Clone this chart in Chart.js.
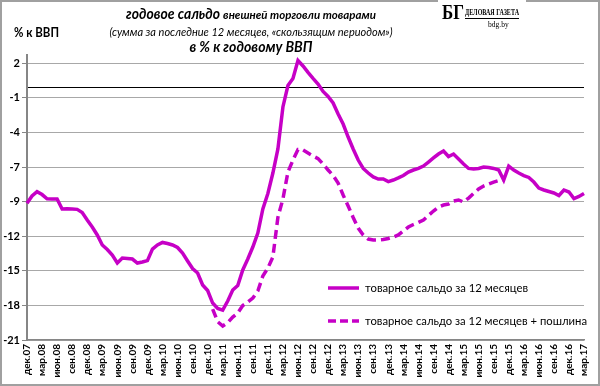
<!DOCTYPE html>
<html>
<head>
<meta charset="utf-8">
<script src="https://cdn.jsdelivr.net/npm/chart.js@4/dist/chart.umd.min.js"></script>
<style>
  body { margin: 0; background: #fff; }
  #wrap { width: 600px; height: 386px; }
</style>
</head>
<body>
<div id="wrap"><canvas id="saldoChart" width="600" height="386"></canvas></div>
<script>
// monthly points, дек.07 .. мар.17
const categories = [
    'дек.07',
    'янв.08','фев.08','мар.08','апр.08','май.08','июн.08','июл.08','авг.08','сен.08','окт.08','ноя.08','дек.08',
    'янв.09','фев.09','мар.09','апр.09','май.09','июн.09','июл.09','авг.09','сен.09','окт.09','ноя.09','дек.09',
    'янв.10','фев.10','мар.10','апр.10','май.10','июн.10','июл.10','авг.10','сен.10','окт.10','ноя.10','дек.10',
    'янв.11','фев.11','мар.11','апр.11','май.11','июн.11','июл.11','авг.11','сен.11','окт.11','ноя.11','дек.11',
    'янв.12','фев.12','мар.12','апр.12','май.12','июн.12','июл.12','авг.12','сен.12','окт.12','ноя.12','дек.12',
    'янв.13','фев.13','мар.13','апр.13','май.13','июн.13','июл.13','авг.13','сен.13','окт.13','ноя.13','дек.13',
    'янв.14','фев.14','мар.14','апр.14','май.14','июн.14','июл.14','авг.14','сен.14','окт.14','ноя.14','дек.14',
    'янв.15','фев.15','мар.15','апр.15','май.15','июн.15','июл.15','авг.15','сен.15','окт.15','ноя.15','дек.15',
    'янв.16','фев.16','мар.16','апр.16','май.16','июн.16','июл.16','авг.16','сен.16','окт.16','ноя.16','дек.16',
    'янв.17','фев.17','мар.17'
];

// товарное сальдо за 12 месяцев, % к ВВП
const tradeBalance = [
    -9.64, -9.03, -8.67, -8.91, -9.26, -9.28, -9.28, -10.11, -10.09, -10.11,
    -10.14, -10.40, -11.03, -11.61, -12.27, -13.10, -13.48, -13.94, -14.60, -14.19,
    -14.23, -14.27, -14.60, -14.52, -14.40, -13.44, -13.10, -12.89, -12.98, -13.10,
    -13.31, -13.77, -14.43, -15.06, -15.43, -16.43, -16.89, -17.93, -18.37, -18.51,
    -17.76, -16.85, -16.47, -15.18, -14.27, -13.27, -12.11, -10.11, -8.82, -7.12,
    -5.12, -1.63, 0.15, 0.74, 2.23, 1.78, 1.24, 0.74, 0.28, -0.34,
    -0.76, -1.30, -2.21, -3.05, -4.13, -5.12, -6.04, -6.74, -7.12, -7.45,
    -7.62, -7.62, -7.83, -7.70, -7.53, -7.33, -7.04, -6.87, -6.74, -6.54,
    -6.21, -5.87, -5.54, -5.29, -5.75, -5.54, -5.96, -6.37, -6.74, -6.79,
    -6.74, -6.62, -6.66, -6.74, -6.87, -7.70, -6.54, -6.87, -7.12, -7.33,
    -7.49, -7.87, -8.37, -8.53, -8.66, -8.78, -8.99, -8.53, -8.70, -9.24,
    -9.07, -8.82
];

// товарное сальдо + пошлина, from янв.11
const dutyStart = 'янв.11';
const dutyValues = [
    -18.43, -19.48, -19.84, -19.55, -19.09, -18.76, -18.14, -17.85, -17.51, -16.93,
    -15.68, -15.02, -14.10, -10.80, -9.28, -7.04, -6.04, -5.17, -5.21, -5.46,
    -5.71, -5.92, -6.37, -6.87, -7.33, -7.95, -8.95, -9.86, -10.81, -11.69,
    -12.27, -12.61, -12.69, -12.69, -12.65, -12.56, -12.44, -12.27, -11.94, -11.61,
    -11.40, -11.23, -11.03, -10.65, -10.28, -9.95, -9.78, -9.70, -9.45, -9.36,
    -9.53, -9.20, -8.82, -8.45, -8.20, -8.03, -7.87, -7.74, -7.70
];

// y axis: evenly spaced marks with the labels as printed
const yTickValues = [2, -0.875, -3.75, -6.625, -9.5, -12.375, -15.25, -18.125, -21];
const yTickLabels = ['2', '-1', '-4', '-7', '-9', '-12', '-15', '-18', '-21'];
const zeroLine = 0;

const seriesNames = ['товарное сальдо за 12 месяцев', 'товарное сальдо за 12 месяцев + пошлина'];

const LINE = '#c600c6';
const GRID = '#a8a8a8';
const AXIS = '#868686';
const FONT = 'Lato, "Open Sans", sans-serif';

const startIdx = categories.indexOf(dutyStart);
const dutyData = categories.map((c, i) => {
    const k = i - startIdx;
    return (k >= 0 && k < dutyValues.length) ? dutyValues[k] : null;
});

// titles, logo, frame and legend
const decor = {
    id: 'decor',
    afterDraw(chart) {
        const ctx = chart.ctx;
        ctx.save();

        // outer frame
        ctx.strokeStyle = '#a0a0a0';
        ctx.lineWidth = 2;
        ctx.strokeRect(1, 1, 598, 384);
        ctx.fillStyle = '#fff';
        ctx.fillRect(438, 0, 88, 4);

        ctx.fillStyle = '#000';
        ctx.textBaseline = 'middle';

        // title line 1, mixed sizes
        const big = 'bold italic 15px ' + FONT;
        const small = 'bold italic 11.5px ' + FONT;
        const p1 = 'годовое сальдо ', p2 = 'внешней торговли товарами';
        ctx.font = big;
        const w1 = Math.min(ctx.measureText(p1).width, 97);
        ctx.font = small;
        const w2 = Math.min(ctx.measureText(p2).width, 156);
        let x = 251 - (w1 + w2) / 2;
        ctx.textAlign = 'left';
        ctx.font = big;
        ctx.fillText(p1, x, 14, 97);
        ctx.font = small;
        ctx.fillText(p2, x + w1, 15, 156);

        ctx.textAlign = 'center';
        ctx.font = 'italic 11px ' + FONT;
        ctx.fillText('(сумма за последние 12 месяцев, «скользящим периодом»)', 251, 32, 287);
        ctx.font = 'bold italic 14.5px ' + FONT;
        ctx.fillText('в % к годовому ВВП', 251, 47, 123);

        ctx.textAlign = 'left';
        ctx.font = 'bold 12.5px ' + FONT;
        ctx.fillText('% к ВВП', 14, 33, 45);

        // logo
        ctx.font = 'bold 22px "Liberation Serif", serif';
        ctx.fillText('БГ', 442, 13, 22);
        ctx.font = 'bold 8.5px "Liberation Serif", serif';
        ctx.fillText('ДЕЛОВАЯ ГАЗЕТА', 465, 13, 54);
        ctx.fillRect(465, 18, 54, 1);
        ctx.font = '7.5px "Liberation Serif", serif';
        ctx.fillText('bdg.by', 488, 25);

        // legend
        const rows = [{ y: 288, dash: [] }, { y: 321, dash: [8, 4] }];
        const textW = [163, 222];
        rows.forEach((r, i) => {
            ctx.strokeStyle = LINE;
            ctx.lineWidth = 3.5;
            ctx.setLineDash(r.dash);
            ctx.beginPath();
            ctx.moveTo(328, r.y);
            ctx.lineTo(359, r.y);
            ctx.stroke();
            ctx.setLineDash([]);
            ctx.fillStyle = '#000';
            ctx.font = '12px ' + FONT;
            ctx.fillText(seriesNames[i], 365, r.y, textW[i]);
        });

        ctx.restore();
    }
};

const chart = new Chart(document.getElementById('saldoChart').getContext('2d'), {
    type: 'line',
    data: {
        labels: categories,
        datasets: [
            {
                label: seriesNames[0],
                data: tradeBalance,
                borderColor: LINE,
                borderWidth: 3.5,
                pointRadius: 0,
                tension: 0
            },
            {
                label: seriesNames[1],
                data: dutyData,
                borderColor: LINE,
                borderWidth: 3.5,
                borderDash: [9, 5],
                pointRadius: 0,
                tension: 0
            }
        ]
    },
    options: {
        responsive: false,
        animation: false,
        layout: { padding: { top: 55, right: 8, left: 0, bottom: 0 } },
        plugins: {
            legend: { display: false },
            tooltip: { enabled: false }
        },
        scales: {
            x: {
                grid: { display: false, drawTicks: false },
                border: { color: AXIS, width: 1.5 },
                ticks: {
                    autoSkip: false,
                    maxRotation: 90,
                    minRotation: 90,
                    padding: 4,
                    color: '#000',
                    font: { family: FONT, weight: 'bold', size: 10 },
                    callback: (v, i) => (i % 3 === 0 ? categories[i] : '')
                },
                afterFit: s => { s.height = 46; }
            },
            y: {
                min: -21,
                max: 2.69,
                afterBuildTicks: s => {
                    s.ticks = yTickValues.concat([zeroLine]).sort((a, b) => b - a).map(v => ({ value: v }));
                },
                afterFit: s => { s.width = 27; },
                grid: {
                    color: c => (c.tick && c.tick.value === zeroLine ? '#000' : GRID),
                    tickColor: c => (c.tick && c.tick.value === zeroLine ? 'rgba(0,0,0,0)' : AXIS),
                    tickLength: 5,
                    lineWidth: 1
                },
                border: { color: AXIS, width: 2 },
                ticks: {
                    autoSkip: false,
                    padding: 2,
                    color: '#000',
                    font: { family: FONT, weight: 'bold', size: 11 },
                    callback: v => {
                        const k = yTickValues.indexOf(v);
                        return k < 0 ? '' : yTickLabels[k];
                    }
                }
            }
        }
    },
    plugins: [decor]
});
</script>
</body>
</html>
